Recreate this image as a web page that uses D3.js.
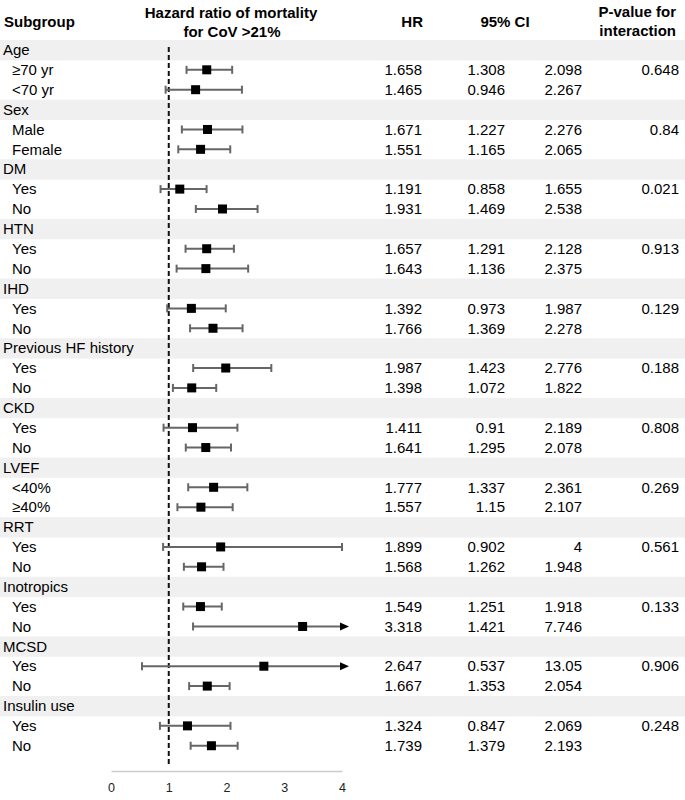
<!DOCTYPE html>
<html><head><meta charset="utf-8">
<script src="https://cdn.jsdelivr.net/npm/d3@7"></script>
<style>body{margin:0;background:#fff}svg{display:block;font-family:"Liberation Sans",Arial,sans-serif}</style>
</head><body><svg id="c" width="685" height="800"></svg>
<script>
const groups = ["Age","Sex","DM","HTN","IHD","Previous HF history","CKD","LVEF","RRT","Inotropics","MCSD","Insulin use"];
const pValues = ["0.648","0.84","0.021","0.913","0.129","0.188","0.808","0.269","0.561","0.133","0.906","0.248"];
const subLabels = [["≥70 yr","<70 yr"],["Male","Female"],["Yes","No"],["Yes","No"],["Yes","No"],["Yes","No"],["Yes","No"],["<40%","≥40%"],["Yes","No"],["Yes","No"],["Yes","No"],["Yes","No"]];
const hr = [[1.658,1.465],[1.671,1.551],[1.191,1.931],[1.657,1.643],[1.392,1.766],[1.987,1.398],[1.411,1.641],[1.777,1.557],[1.899,1.568],[1.549,3.318],[2.647,1.667],[1.324,1.739]];
const ciLow = [[1.308,0.946],[1.227,1.165],[0.858,1.469],[1.291,1.136],[0.973,1.369],[1.423,1.072],[0.91,1.295],[1.337,1.15],[0.902,1.262],[1.251,1.421],[0.537,1.353],[0.847,1.379]];
const ciHigh = [[2.098,2.267],[2.276,2.065],[1.655,2.538],[2.128,2.375],[1.987,2.278],[2.776,1.822],[2.189,2.078],[2.361,2.107],[4,1.948],[1.918,7.746],[13.05,2.054],[2.069,2.193]];
const axisTicks = [0,1,2,3,4];

const svg = d3.select("#c");
const nRows = groups.length*3;
const y = d3.scaleBand().domain(d3.range(nRows)).range([40, 40+nRows*19.88]).padding(0);
const x = d3.scaleLinear().domain([0,4]).range([111,342]);
const fs = 15;

// rows
const rows = [];
groups.forEach((g,i)=>{
  rows.push({type:"group",label:g,row:i*3});
  subLabels[i].forEach((s,j)=>{
    rows.push({type:"sub",label:s,row:i*3+1+j,hr:hr[i][j],lo:ciLow[i][j],hi:ciHigh[i][j],p:j===0?pValues[i]:""});
  });
});

// bands
svg.selectAll("rect.band").data(rows.filter(r=>r.type==="group")).join("rect")
  .attr("x",0).attr("width",685).attr("y",d=>y(d.row)).attr("height",y.bandwidth()+0.5).attr("fill","#f0f0f0");

// headers
const hdr = svg.append("g").attr("font-weight","bold").attr("font-size",fs).attr("fill","#000");
hdr.append("text").attr("x",4).attr("y",22).attr("dy","0.35em").text("Subgroup");
hdr.append("text").attr("x",231).attr("y",13).attr("dy","0.35em").attr("text-anchor","middle").text("Hazard ratio of mortality");
hdr.append("text").attr("x",232).attr("y",32).attr("dy","0.35em").attr("text-anchor","middle").text("for CoV >21%");
hdr.append("text").attr("x",423).attr("y",22).attr("dy","0.35em").attr("text-anchor","end").text("HR");
hdr.append("text").attr("x",505).attr("y",22).attr("dy","0.35em").attr("text-anchor","middle").text("95% CI");
hdr.append("text").attr("x",676).attr("y",12).attr("dy","0.35em").attr("text-anchor","end").text("P-value for");
hdr.append("text").attr("x",676).attr("y",31).attr("dy","0.35em").attr("text-anchor","end").text("interaction");

// labels
const cy = r => y(r)+y.bandwidth()/2;
svg.append("g").attr("font-size",fs).selectAll("text").data(rows).join("text")
  .attr("x",d=>d.type==="group"?3:12).attr("y",d=>cy(d.row)).attr("dy","0.35em").text(d=>d.label);

const subs = rows.filter(r=>r.type==="sub");
const cols = [{k:"hr",x:422},{k:"lo",x:505},{k:"hi",x:582},{k:"p",x:679}];
const tg = svg.append("g").attr("font-size",fs).attr("text-anchor","end");
cols.forEach(c=>{
  tg.selectAll("text.c"+c.k).data(subs).join("text").attr("class","c"+c.k)
    .attr("x",c.x).attr("y",d=>cy(d.row)).attr("dy","0.35em").text(d=>d[c.k]);
});

// reference line
svg.append("line").attr("x1",x(1)).attr("x2",x(1)).attr("y1",47).attr("y2",766)
  .attr("stroke","#111").attr("stroke-width",2).attr("stroke-dasharray","5,3");

// CIs
const xmax = 4;
const ci = svg.append("g");
subs.forEach(d=>{
  const yy = cy(d.row);
  const over = d.hi > xmax;
  const xr = over ? x(xmax)-2 : x(d.hi);
  const col = "#666";
  ci.append("line").attr("x1",x(d.lo)).attr("x2",xr).attr("y1",yy).attr("y2",yy).attr("stroke",col).attr("stroke-width",2);
  ci.append("line").attr("x1",x(d.lo)).attr("x2",x(d.lo)).attr("y1",yy-4).attr("y2",yy+4).attr("stroke",col).attr("stroke-width",2);
  if(over){
    ci.append("path").attr("d",`M${xr},${yy-4}L${xr+9},${yy}L${xr},${yy+4}Z`).attr("fill","#000");
  } else {
    ci.append("line").attr("x1",xr).attr("x2",xr).attr("y1",yy-4).attr("y2",yy+4).attr("stroke",col).attr("stroke-width",2);
  }
  ci.append("rect").attr("x",x(d.hr)-4.5).attr("y",yy-4.5).attr("width",9).attr("height",9).attr("fill","#000");
});

// axis
const ax = svg.append("g").attr("transform","translate(0,771)")
  .call(d3.axisBottom(x).tickValues(axisTicks).tickFormat(d3.format("d")).tickSize(0).tickPadding(12));
ax.select(".domain").attr("stroke","#ccc").attr("stroke-width",1.5);
ax.selectAll("text").attr("font-size",12.5).attr("fill","#222").attr("font-family","Liberation Sans, Arial, sans-serif");
</script></body></html>
